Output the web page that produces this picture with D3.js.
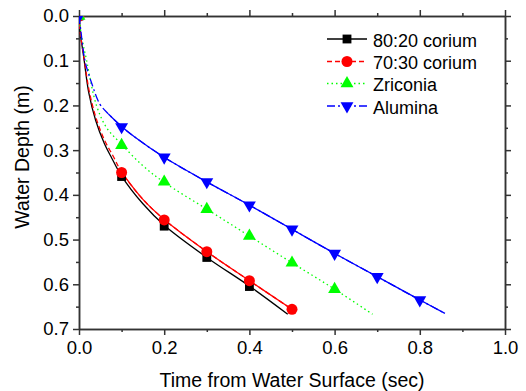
<!DOCTYPE html>
<html>
<head>
<meta charset="utf-8">
<title>Water depth</title>
<style>
body { margin: 0; background: #fff; }
text { font-family: "Liberation Sans", Arial, sans-serif; fill: #000; }
</style>
</head>
<body>
<script src="https://cdnjs.cloudflare.com/ajax/libs/d3/7.8.5/d3.min.js"></script>
<script>
// series names
var names = ['80:20 corium', '70:30 corium', 'Zriconia', 'Alumina'];

// measured points (time sec, depth m)
var pts8020 = [[0,0],[0.1,0.359],[0.2,0.470],[0.3,0.540],[0.4,0.605]];
var pts7030 = [[0,0],[0.1,0.350],[0.2,0.456],[0.3,0.527],[0.4,0.592],[0.5,0.656]];
var ptsZr   = [[0,0],[0.1,0.289],[0.2,0.371],[0.3,0.432],[0.4,0.492],[0.5,0.552],[0.6,0.611]];
var ptsAl   = [[0,0],[0.1,0.248],[0.2,0.316],[0.3,0.371],[0.4,0.423],[0.5,0.477],[0.6,0.531],[0.7,0.583],[0.8,0.635]];

// fitted curves
var fit8020 = [[0,0],[0.002,0.03],[0.012,0.098],[0.023,0.172],[0.039,0.233],[0.059,0.284],[0.077,0.318],[0.1,0.358],[0.15,0.42],[0.2,0.468],[0.3,0.54],[0.4,0.604],[0.49,0.667]];
var fit7030 = [[0,0],[0.002,0.03],[0.012,0.095],[0.024,0.168],[0.04,0.228],[0.06,0.278],[0.08,0.313],[0.1,0.349],[0.15,0.41],[0.2,0.455],[0.3,0.527],[0.4,0.592],[0.5,0.656]];
var fitZr   = [[0,0],[0.005,0.04],[0.018,0.1],[0.041,0.2],[0.065,0.25],[0.1,0.287],[0.15,0.335],[0.2,0.372],[0.3,0.432],[0.4,0.492],[0.5,0.552],[0.6,0.611],[0.689,0.667]];
var fitAl   = [[0,0],[0.004,0.03],[0.014,0.1],[0.03,0.151],[0.049,0.197],[0.069,0.219],[0.1,0.247],[0.13,0.27],[0.2,0.316],[0.3,0.371],[0.4,0.423],[0.5,0.477],[0.6,0.531],[0.7,0.583],[0.8,0.635],[0.859,0.665]];

var xTicks = [0, 0.2, 0.4, 0.6, 0.8, 1.0];
var yTicks = [0, 0.1, 0.2, 0.3, 0.4, 0.5, 0.6, 0.7];

var series = [
	{ name: names[0], pts: pts8020, fit: fit8020, color: '#000000', dash: null, sym: d3.symbolSquare, size: 78, rot: 0, solidFrom: 0 },
	{ name: names[1], pts: pts7030, fit: fit7030, color: '#ff0000', dash: '5,3', sym: d3.symbolCircle, size: 95, rot: 0, solidFrom: 0.1 },
	{ name: names[2], pts: ptsZr, fit: fitZr, color: '#00ff00', dash: '1.5,3', sym: d3.symbolTriangle, size: 72, rot: 0, solidFrom: null },
	{ name: names[3], pts: ptsAl, fit: fitAl, color: '#0000ff', dash: '8,3,2,3', sym: d3.symbolTriangle, size: 72, rot: 180, solidFrom: 0.06 }
];

var W = 526, H = 391;
var L = 79, R = 505, T = 16, B = 329;
var axisCol = '#333';

var svg = d3.select('body').append('svg')
	.attr('width', W)
	.attr('height', H);

var x = d3.scaleLinear().domain([0, 1]).range([L, R]);
var y = d3.scaleLinear().domain([0, 0.7]).range([T, B]);

svg.append('clipPath').attr('id', 'clip')
	.append('rect').attr('x', L).attr('y', T).attr('width', R - L).attr('height', B - T);

// axes: bottom / top / left / right
function styleAxis(g) {
	g.selectAll('path').attr('stroke', axisCol).attr('stroke-width', 1.5);
	g.selectAll('line').attr('stroke', axisCol).attr('stroke-width', 1.5);
	g.selectAll('text').style('font-size', '18.5px').attr('fill', '#000');
}
var xMinor = d3.range(0.1, 1.0, 0.2);
var yMinor = d3.range(0.05, 0.7, 0.1);

svg.append('g').attr('transform', 'translate(0,' + B + ')')
	.call(d3.axisBottom(x).tickValues(xTicks).tickFormat(d3.format('.1f')).tickSizeInner(6).tickSizeOuter(0).tickPadding(6))
	.call(styleAxis);
svg.append('g').attr('transform', 'translate(0,' + B + ')')
	.call(d3.axisBottom(x).tickValues(xMinor).tickFormat('').tickSizeInner(3).tickSizeOuter(0))
	.call(styleAxis);
svg.append('g').attr('transform', 'translate(0,' + T + ')')
	.call(d3.axisTop(x).tickValues(xTicks).tickFormat('').tickSizeInner(6).tickSizeOuter(0))
	.call(styleAxis);
svg.append('g').attr('transform', 'translate(0,' + T + ')')
	.call(d3.axisTop(x).tickValues(xMinor).tickFormat('').tickSizeInner(3).tickSizeOuter(0))
	.call(styleAxis);
svg.append('g').attr('transform', 'translate(' + L + ',0)')
	.call(d3.axisLeft(y).tickValues(yTicks).tickFormat(d3.format('.1f')).tickSizeInner(6).tickSizeOuter(0).tickPadding(4))
	.call(styleAxis);
svg.append('g').attr('transform', 'translate(' + L + ',0)')
	.call(d3.axisLeft(y).tickValues(yMinor).tickFormat('').tickSizeInner(3).tickSizeOuter(0))
	.call(styleAxis);
svg.append('g').attr('transform', 'translate(' + R + ',0)')
	.call(d3.axisRight(y).tickValues(yTicks).tickFormat('').tickSizeInner(6).tickSizeOuter(0))
	.call(styleAxis);
svg.append('g').attr('transform', 'translate(' + R + ',0)')
	.call(d3.axisRight(y).tickValues(yMinor).tickFormat('').tickSizeInner(3).tickSizeOuter(0))
	.call(styleAxis);

// titles
svg.append('text')
	.attr('x', (L + R) / 2).attr('y', 387)
	.attr('text-anchor', 'middle')
	.style('font-size', '19.5px')
	.text('Time from Water Surface (sec)');
svg.append('text')
	.attr('transform', 'translate(29,157) rotate(-90)')
	.attr('text-anchor', 'middle')
	.style('font-size', '19.5px')
	.text('Water Depth (m)');

// curves
var line = d3.line().x(function(d){ return x(d[0]); }).y(function(d){ return y(d[1]); }).curve(d3.curveCatmullRom.alpha(0.5));
var plot = svg.append('g').attr('clip-path', 'url(#clip)');

series.forEach(function(s){
	plot.append('path')
		.attr('d', line(s.fit))
		.attr('fill', 'none')
		.attr('stroke', s.color)
		.attr('stroke-width', 1.3)
		.attr('stroke-dasharray', s.dash);
	if (s.solidFrom !== null && s.dash) {
		plot.append('path')
			.attr('d', line(s.fit.filter(function(d){ return d[0] >= s.solidFrom; })))
			.attr('fill', 'none')
			.attr('stroke', s.color)
			.attr('stroke-width', 1.3);
	}
});

series.forEach(function(s){
	plot.selectAll(null).data(s.pts).enter().append('path')
		.attr('d', d3.symbol().type(s.sym).size(s.size))
		.attr('transform', function(d){ return 'translate(' + x(d[0]) + ',' + y(d[1]) + ') rotate(' + s.rot + ')'; })
		.attr('fill', s.color);
});

// legend
var lg = svg.append('g');
var rowY = [39, 61.5, 83.5, 106];
series.forEach(function(s, i){
	var g = lg.append('g').attr('transform', 'translate(0,' + rowY[i] + ')');
	g.append('line')
		.attr('x1', 327).attr('x2', 367).attr('y1', 0).attr('y2', 0)
		.attr('stroke', s.color).attr('stroke-width', 1.3)
		.attr('stroke-dasharray', s.dash);
	g.append('path')
		.attr('d', d3.symbol().type(s.sym).size(s.size))
		.attr('transform', 'translate(347,0) rotate(' + s.rot + ')')
		.attr('fill', s.color);
	g.append('text')
		.attr('x', 373).attr('y', 7.5)
		.style('font-size', '18px')
		.text(s.name);
});
</script>
</body>
</html>
